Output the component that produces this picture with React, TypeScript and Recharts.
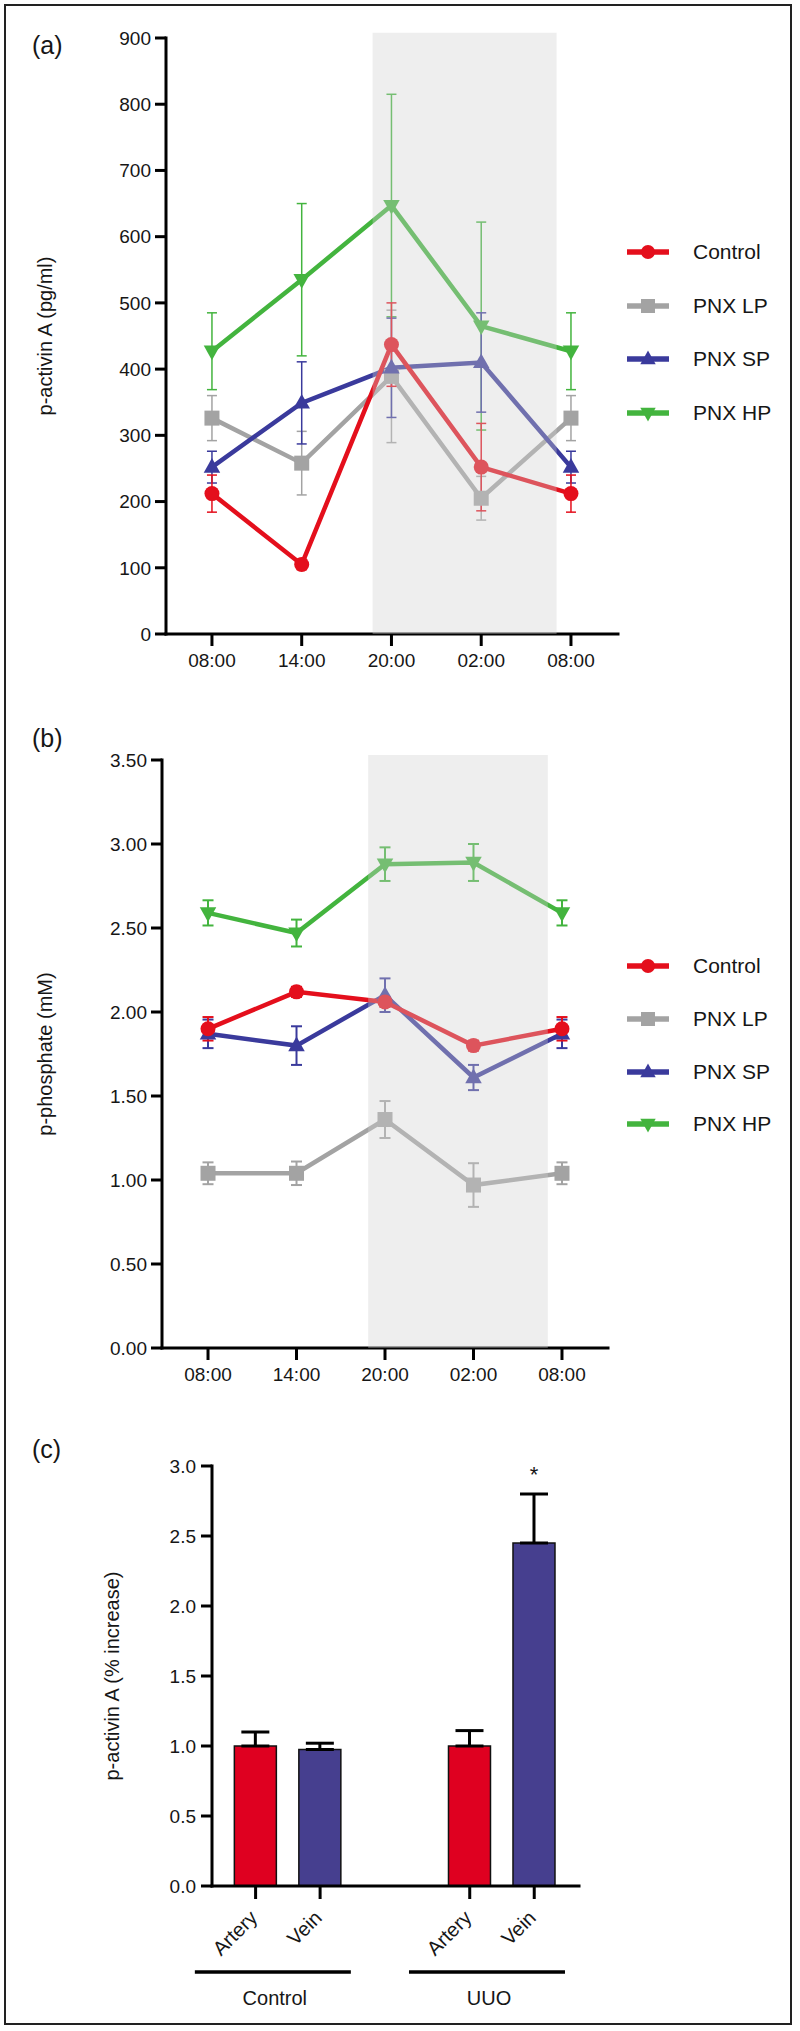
import React from 'react';
import { LineChart, Line, XAxis, YAxis, ErrorBar, ReferenceArea, Legend, BarChart, Bar, Cell, LabelList } from 'recharts';

const FONT = '"Liberation Sans", Arial, Helvetica, sans-serif';
const INK = '#161616';

const RED = '#e40f1c';
const GREY = '#a3a3a3';
const BLUE = '#3a3a9c';
const GREEN = '#43b43e';

// x categories shared by (a) and (b)
const timeLabels = ['08:00', '14:00', '20:00', '02:00', '08:00'];

// (a) p-activin A (pg/ml), mean and SEM
const activinControl = [212, 105, 437, 252, 212];
const activinControlErr = [28, 8, 63, 66, 28];
const activinLP = [326, 258, 389, 205, 326];
const activinLPErr = [34, 48, 100, 33, 34];
const activinSP = [252, 349, 402, 410, 252];
const activinSPErr = [24, 62, 75, 75, 24];
const activinHP = [427, 535, 647, 465, 427];
const activinHPErr = [58, 115, 168, 157, 58];

// (b) p-phosphate (mM)
const phosControl = [1.9, 2.12, 2.06, 1.8, 1.9];
const phosControlErr = [0.07, 0.03, 0.03, 0.03, 0.07];
const phosLP = [1.04, 1.04, 1.36, 0.97, 1.04];
const phosLPErr = [0.065, 0.07, 0.11, 0.13, 0.065];
const phosSP = [1.87, 1.8, 2.1, 1.61, 1.87];
const phosSPErr = [0.085, 0.115, 0.1, 0.075, 0.085];
const phosHP = [2.59, 2.47, 2.88, 2.89, 2.59];
const phosHPErr = [0.075, 0.08, 0.1, 0.11, 0.075];

// dark phase shading, in category units
const darkPhaseA = [1.79, 3.84];
const darkPhaseB = [1.81, 3.84];

// (c) p-activin A (% increase)
const groupNames = ['Control', 'UUO'];
const vesselNames = ['Artery', 'Vein'];
const barGroups = ['Control', 'Control', 'UUO', 'UUO'];
const barVessels = ['Artery', 'Vein', 'Artery', 'Vein'];
const barValues = [1.0, 0.975, 1.0, 2.45];
const barErrors = [0.1, 0.045, 0.11, 0.35];
const barMarks = ['', '', '', '*'];

type Shape = 'circle' | 'square' | 'up' | 'down';

const legendOrder = [
  { key: 'control', name: 'Control', color: RED, shape: 'circle' as Shape },
  { key: 'lp', name: 'PNX LP', color: GREY, shape: 'square' as Shape },
  { key: 'sp', name: 'PNX SP', color: BLUE, shape: 'up' as Shape },
  { key: 'hp', name: 'PNX HP', color: GREEN, shape: 'down' as Shape },
];
// drawing order, bottom to top
const drawOrder = ['hp', 'lp', 'sp', 'control'];

const buildRows = (vals: Record<string, number[]>, errs: Record<string, number[]>) =>
  timeLabels.map((label, i) => {
    const row: any = { t: i, label };
    Object.keys(vals).forEach((k) => {
      row[k] = vals[k][i];
      row[k + 'Err'] = errs[k][i];
    });
    return row;
  });

const rowsA = buildRows(
  { control: activinControl, lp: activinLP, sp: activinSP, hp: activinHP },
  { control: activinControlErr, lp: activinLPErr, sp: activinSPErr, hp: activinHPErr }
);
const rowsB = buildRows(
  { control: phosControl, lp: phosLP, sp: phosSP, hp: phosHP },
  { control: phosControlErr, lp: phosLPErr, sp: phosSPErr, hp: phosHPErr }
);

const markerEl = (shape: Shape, cx: number, cy: number, color: string, s: number, key?: string) => {
  if (shape === 'circle') return <circle key={key} cx={cx} cy={cy} r={s} fill={color} />;
  if (shape === 'square') return <rect key={key} x={cx - s} y={cy - s} width={2 * s} height={2 * s} fill={color} />;
  if (shape === 'up')
    return (
      <polygon key={key} fill={color}
        points={`${cx},${cy - s * 1.2} ${cx + s * 1.1},${cy + s * 0.75} ${cx - s * 1.1},${cy + s * 0.75}`} />
    );
  return (
    <polygon key={key} fill={color}
      points={`${cx - s * 1.1},${cy - s * 0.75} ${cx + s * 1.1},${cy - s * 0.75} ${cx},${cy + s * 1.2}`} />
  );
};

const makeDot = (shape: Shape, color: string) => (props: any) => {
  const { cx, cy, index } = props;
  if (cx == null || cy == null) return <g key={`${shape}-${index}`} />;
  return markerEl(shape, cx, cy, color, 7.5, `${shape}-${index}`);
};

const axisStroke = { stroke: '#000', strokeWidth: 3, strokeLinecap: 'square' as const };
const tickStroke = { stroke: '#000', strokeWidth: 3 };
const tickFont = { fontSize: 19, fill: INK, fontFamily: FONT };

const rotatedLabel = (text: string, x: number, cy: number, size = 20) => () => (
  <text x={x} y={cy} transform={`rotate(-90 ${x} ${cy})`} textAnchor="middle" dominantBaseline="central"
    fontSize={size} fontFamily={FONT} fill={INK}>
    {text}
  </text>
);

const legendContent = (rowH: number) => () => (
  <div style={{ fontFamily: FONT }}>
    {legendOrder.map((s) => (
      <div key={s.key} style={{ height: rowH, display: 'flex', alignItems: 'center' }}>
        <svg width={46} height={22} style={{ display: 'block' }}>
          <line x1={1} y1={11} x2={43} y2={11} stroke={s.color} strokeWidth={5.5} />
          {markerEl(s.shape, 22, 11, s.color, 7)}
        </svg>
        <span style={{ marginLeft: 21, fontSize: 21, color: INK, lineHeight: '22px' }}>{s.name}</span>
      </div>
    ))}
  </div>
);

interface PanelProps {
  rows: any[];
  top: number;
  height: number;
  margin: { top: number; right: number; bottom: number; left: number };
  yWidth: number;
  xDomain: [number, number];
  yTicks: number[];
  yFormat: (v: number) => string;
  shade: number[];
  shadeTop: number;
  yLabel: string;
  errWidth: number;
  errStroke: number;
  legendTop: number;
  legendRow: number;
}

const TimePanel = (p: PanelProps) => {
  const plotH = p.height - p.margin.top - p.margin.bottom - 40;
  const yMax = p.yTicks[p.yTicks.length - 1];
  return (
    <div style={{ position: 'absolute', left: 0, top: p.top }}>
      <LineChart width={800} height={p.height} data={p.rows} margin={p.margin}>
        <XAxis dataKey="t" type="number" domain={p.xDomain} ticks={[0, 1, 2, 3, 4]} interval={0}
          tickFormatter={(v: number) => timeLabels[v]} height={40} tickSize={12} tickMargin={8}
          axisLine={axisStroke} tickLine={tickStroke} tick={tickFont} />
        <YAxis type="number" domain={[0, yMax]} ticks={p.yTicks} interval={0} width={p.yWidth}
          tickFormatter={p.yFormat} tickSize={11} tickMargin={4}
          axisLine={axisStroke} tickLine={tickStroke} tick={tickFont}
          label={rotatedLabel(p.yLabel, 45, p.margin.top + plotH / 2)} />
        {drawOrder.map((k) => {
          const s = legendOrder.find((o) => o.key === k)!;
          return (
            <Line key={k} dataKey={k} name={s.name} stroke={s.color} strokeWidth={4.5} type="linear"
              dot={makeDot(s.shape, s.color)} activeDot={false} isAnimationActive={false}>
              <ErrorBar dataKey={k + 'Err'} direction="y" width={p.errWidth} strokeWidth={p.errStroke}
                stroke={s.color} isAnimationActive={false} />
            </Line>
          );
        })}
        <ReferenceArea x1={p.shade[0]} x2={p.shade[1]} y1={0} y2={p.shadeTop} ifOverflow="visible"
          fill="#cfcfcf" fillOpacity={0.36} stroke="none" zIndex={1500} />
        <Legend layout="vertical" align="center" verticalAlign="middle" content={legendContent(p.legendRow)}
          wrapperStyle={{ left: 626, top: p.legendTop, width: 174 }} />
      </LineChart>
    </div>
  );
};

// (c) layout in category units: bars inside a group are 1 apart
const GROUP_STRIDE = 3.32;
const barRows = barValues.map((v, i) => ({
  x: groupNames.indexOf(barGroups[i]) * GROUP_STRIDE + vesselNames.indexOf(barVessels[i]),
  value: v,
  err: [0, barErrors[i]],
  vessel: barVessels[i],
  mark: barMarks[i],
}));
const groupCenters = groupNames.map((g, gi) => gi * GROUP_STRIDE + (vesselNames.length - 1) / 2);

const VesselTick = (props: any) => {
  const { x, y, payload } = props;
  const row = barRows.find((r) => Math.abs(r.x - payload.value) < 1e-6);
  const px = x + 3;
  const py = y + 18;
  return (
    <text x={px} y={py} transform={`rotate(-45 ${px} ${py})`} textAnchor="end" fontSize={20}
      fontFamily={FONT} fill={INK}>
      {row ? row.vessel : ''}
    </text>
  );
};

const GroupTick = (props: any) => {
  const { x, y, payload } = props;
  const gi = groupCenters.findIndex((c) => Math.abs(c - payload.value) < 1e-6);
  return (
    <g>
      <line x1={x - 93} x2={x + 63} y1={y + 16} y2={y + 16} stroke="#000" strokeWidth={3.5} />
      <text x={x - 13} y={y + 42} textAnchor="middle" dominantBaseline="central" fontSize={20}
        fontFamily={FONT} fill={INK}>
        {groupNames[gi]}
      </text>
    </g>
  );
};

const StarLabel = (props: any) => {
  const { x, y, width, height, index } = props;
  const mark = barMarks[index];
  if (!mark) return null;
  const errPx = (barErrors[index] / barValues[index]) * height;
  return (
    <text x={x + width / 2} y={y - errPx - 12} textAnchor="middle" fontSize={22} fontFamily={FONT} fill={INK}>
      {mark}
    </text>
  );
};

const BarPanel = () => (
  <div style={{ position: 'absolute', left: 0, top: 1380 }}>
    <BarChart width={800} height={651} data={barRows} margin={{ top: 86, right: 221, bottom: 5, left: 0 }}>
      <XAxis dataKey="x" type="number" domain={[-0.676, 5.014]} ticks={barRows.map((r) => r.x)} interval={0}
        height={70} tickSize={13} tickMargin={2} axisLine={axisStroke} tickLine={tickStroke} tick={<VesselTick />} />
      <XAxis xAxisId="group" dataKey="x" type="number" domain={[-0.676, 5.014]} ticks={groupCenters} interval={0}
        height={70} tickSize={0} tickMargin={0} axisLine={false} tickLine={false} tick={<GroupTick />} />
      <YAxis type="number" domain={[0, 3]} ticks={[0, 0.5, 1, 1.5, 2, 2.5, 3]} interval={0} width={212}
        tickFormatter={(v: number) => v.toFixed(1)} tickSize={11} tickMargin={5}
        axisLine={axisStroke} tickLine={tickStroke} tick={tickFont}
        label={rotatedLabel('p-activin A (% increase)', 112, 86 + 210, 20)} />
      <Bar dataKey="value" barSize={42} stroke="#111" strokeWidth={1.5} isAnimationActive={false}>
        {barRows.map((r, i) => (
          <Cell key={i} fill={r.vessel === 'Artery' ? '#df0020' : '#463f8f'} />
        ))}
        <ErrorBar dataKey="err" direction="y" width={14} strokeWidth={3} stroke="#000" isAnimationActive={false} />
        <LabelList dataKey="mark" content={<StarLabel />} />
      </Bar>
    </BarChart>
  </div>
);

const panelTag = (text: string, top: number) => (
  <div style={{ position: 'absolute', left: 32, top, fontFamily: FONT, fontSize: 25, lineHeight: '25px', color: INK }}>
    {text}
  </div>
);

export default function App() {
  return (
    <div style={{ position: 'absolute', left: 0, top: 0, width: 800, height: 2031, background: '#fff' }}>
      <div style={{ position: 'absolute', left: 4, top: 4, width: 788, height: 2021, border: '2px solid #222', boxSizing: 'border-box' }} />
      {panelTag('(a)', 33)}
      {panelTag('(b)', 726)}
      {panelTag('(c)', 1437)}
      <TimePanel rows={rowsA} top={0} height={700} margin={{ top: 38, right: 182, bottom: 26, left: 0 }}
        yWidth={166} xDomain={[-0.512, 4.524]} yTicks={[0, 100, 200, 300, 400, 500, 600, 700, 800, 900]}
        yFormat={(v) => String(v)} shade={darkPhaseA} shadeTop={908} yLabel="p-activin A (pg/ml)"
        errWidth={5} errStroke={1.5} legendTop={225} legendRow={53.7} />
      <TimePanel rows={rowsB} top={680} height={720} margin={{ top: 80, right: 192, bottom: 12, left: 0 }}
        yWidth={162} xDomain={[-0.52, 4.52]} yTicks={[0, 0.5, 1, 1.5, 2, 2.5, 3, 3.5]}
        yFormat={(v) => v.toFixed(2)} shade={darkPhaseB} shadeTop={3.53} yLabel="p-phosphate (mM)"
        errWidth={5.5} errStroke={2} legendTop={260} legendRow={52.7} />
      <BarPanel />
    </div>
  );
}
